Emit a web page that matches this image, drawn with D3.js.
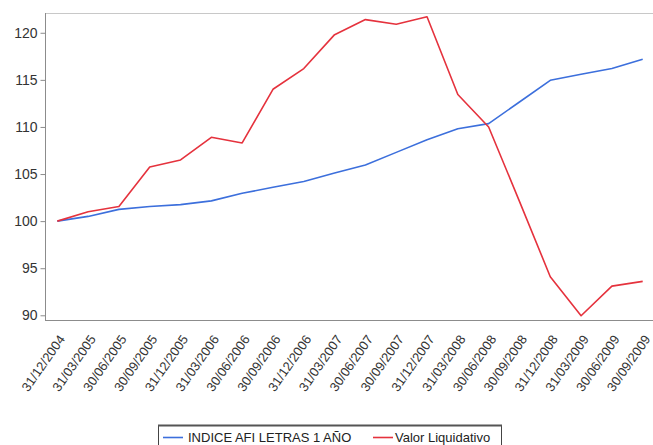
<!DOCTYPE html>
<html><head><meta charset="utf-8">
<script src="https://cdn.jsdelivr.net/npm/d3@7"></script>
<style>
html,body{margin:0;padding:0;background:#fff;overflow:hidden}
svg{display:block;font-family:"Liberation Sans",Arial,sans-serif}
</style></head>
<body><svg id="c" width="653" height="445"></svg>
<script>
const categories = ["31/12/2004","31/03/2005","30/06/2005","30/09/2005","31/12/2005","31/03/2006","30/06/2006","30/09/2006","31/12/2006","31/03/2007","30/06/2007","30/09/2007","31/12/2007","31/03/2008","30/06/2008","30/09/2008","31/12/2008","31/03/2009","30/06/2009","30/09/2009"];
const indiceAfi = [100,100.5,101.25,101.55,101.75,102.15,102.95,103.6,104.2,105.1,105.95,107.3,108.65,109.8,110.35,112.65,114.95,115.6,116.2,117.2];
const valorLiq = [100,101.0,101.55,105.75,106.5,108.9,108.3,114.0,116.2,119.8,121.4,120.9,121.7,113.45,110.0,102.1,94.1,89.95,93.1,93.6];
const yTicks = [90,95,100,105,110,115,120];
const seriesNames = ["INDICE AFI LETRAS 1 AÑO","Valor Liquidativo"];

const svg = d3.select("#c");
const L=45, T=13, R=652, B=320;
const x = d3.scalePoint().domain(categories).range([57.3, 642.7]);
const y = d3.scaleLinear().domain([89.5, 122.1]).range([B, T]);
const colors = ["#3c6fdc","#e5323d"];

// frame
svg.append("line").attr("x1",L).attr("x2",R+1).attr("y1",T+0.5).attr("y2",T+0.5).attr("stroke","#c8c8c8");
const ya = svg.append("g").attr("transform",`translate(${L+0.5},0)`)
  .call(d3.axisLeft(y).tickValues(yTicks).tickSize(5).tickPadding(3).tickFormat(d3.format("d")));
ya.select(".domain").attr("d",`M0,${T}V${B}`).attr("stroke","#8c8c8c");
ya.selectAll(".tick line").attr("stroke","#8c8c8c");
ya.selectAll(".tick text").attr("font-size",14).attr("fill","#333").attr("font-family","Liberation Sans, Arial, sans-serif");

const xa = svg.append("g").attr("transform",`translate(0,${B+0.5})`)
  .call(d3.axisBottom(x).tickSize(0).tickPadding(0));
xa.select(".domain").attr("d",`M${L},0H${R+1}`).attr("stroke","#8c8c8c");
xa.selectAll(".tick text")
  .attr("font-size",13).attr("fill","#333").attr("font-family","Liberation Sans, Arial, sans-serif")
  .attr("text-anchor","end").attr("dy","0.35em")
  .attr("transform","translate(4,16) rotate(-55)").attr("y",0).attr("x",0);

const line = d3.line().x((d,i)=>x(categories[i])).y(d=>y(d));
[indiceAfi, valorLiq].forEach((s,k)=>{
  svg.append("path").datum(s).attr("d",line).attr("fill","none")
    .attr("stroke",colors[k]).attr("stroke-width",1.6).attr("stroke-linejoin","round");
});

// legend
const lg = svg.append("g");
lg.append("rect").attr("x",158.5).attr("y",425.5).attr("width",343).attr("height",26)
  .attr("fill","#fff").attr("stroke","#444").attr("stroke-width",1);
lg.append("line").attr("x1",158).attr("x2",502).attr("y1",425.5).attr("y2",425.5).attr("stroke","#555").attr("stroke-width",2);
const items = [{x:163,tx:188},{x:373,tx:395}];
items.forEach((it,k)=>{
  lg.append("line").attr("x1",it.x).attr("x2",it.x+20).attr("y1",437.5).attr("y2",437.5)
    .attr("stroke",colors[k]).attr("stroke-width",1.6);
  lg.append("text").attr("x",it.tx).attr("y",442).attr("font-size",13).attr("fill","#222")
    .text(seriesNames[k]);
});
</script></body></html>
